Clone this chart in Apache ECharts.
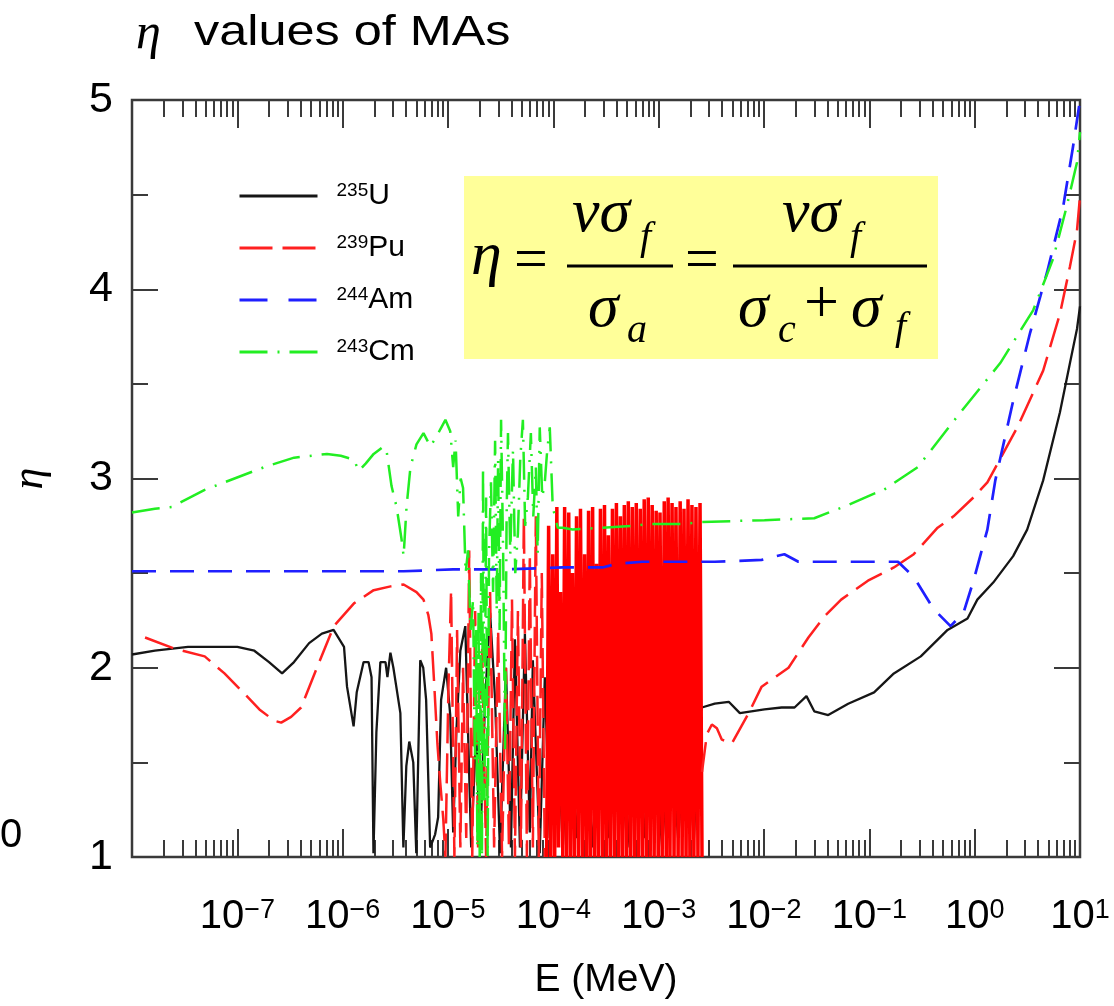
<!DOCTYPE html>
<html>
<head>
<meta charset="utf-8">
<script src="https://cdn.jsdelivr.net/npm/echarts@6/dist/echarts.min.js"></script>
<style>
  html, body { margin: 0; padding: 0; background: #fff; }
  #chart { width: 1114px; height: 1006px; }
</style>
</head>
<body>
<div id="chart"></div>
<script>
// Neutron energy E in MeV, eta = nu*sigma_f / sigma_a.

const u235 = [
  [1.0e-8, 2.07], [1.65e-8, 2.09], [3.4e-8, 2.11], [1.0e-7, 2.11], [1.45e-7, 2.09], [2.0e-7, 2.03],
  [2.66e-7, 1.97], [3.45e-7, 2.03], [4.8e-7, 2.13], [6.35e-7, 2.18], [8.2e-7, 2.20],
  [1.03e-6, 2.11], [1.1e-6, 1.90], [1.27e-6, 1.69], [1.36e-6, 1.87], [1.58e-6, 2.03], [1.76e-6, 2.03],
  [1.88e-6, 1.95], [1.96e-6, 1.02], [2.09e-6, 1.66], [2.28e-6, 2.03], [2.55e-6, 2.03], [2.66e-6, 1.95],
  [2.84e-6, 2.08], [3.03e-6, 2.0], [3.23e-6, 1.90], [3.53e-6, 1.76], [3.77e-6, 1.05], [4.02e-6, 1.48],
  [4.29e-6, 1.61], [4.68e-6, 1.50], [5.0e-6, 1.02], [5.45e-6, 2.04], [5.82e-6, 2.0], [6.2e-6, 1.83],
  [6.77e-6, 1.05], [7.55e-6, 1.12], [8.06e-6, 1.21], [8.6e-6, 1.83], [9.6e-6, 2.0],
  [1.05e-5, 1.75], [1.12e-5, 1.13], [1.2e-5, 1.66], [1.31e-5, 2.09], [1.46e-5, 2.22], [1.55e-5, 1.66],
  [1.66e-5, 1.05], [1.85e-5, 1.66], [2.02e-5, 1.05], [2.25e-5, 1.83], [2.51e-5, 2.29], [2.8e-5, 1.83],
  [3.12e-5, 1.02], [3.55e-5, 2.0], [3.96e-5, 1.05], [4.32e-5, 2.15], [4.82e-5, 1.05], [5.37e-5, 2.18],
  [5.98e-5, 1.13], [6.39e-5, 2.04], [7.43e-5, 1.02], [8.3e-5, 1.95], [9.25e-5, 1.1],
  [1.05e-4, 1.9], [1.23e-4, 1.05], [1.43e-4, 1.85], [1.66e-4, 1.1], [1.98e-4, 1.8], [2.36e-4, 1.05],
  [2.8e-4, 1.75], [3.4e-4, 1.1], [4.15e-4, 1.7], [5.05e-4, 1.05], [6.13e-4, 1.7], [7.46e-4, 1.1],
  [9.06e-4, 1.6], [1.08e-3, 1.05], [1.28e-3, 1.7], [1.53e-3, 1.1], [1.82e-3, 1.65], [2.16e-3, 1.1],
  [2.47e-3, 1.75], [2.57e-3, 1.79],
  [3.41e-3, 1.81], [4.63e-3, 1.82], [5.9e-3, 1.76], [1.01e-2, 1.78], [1.47e-2, 1.79], [1.95e-2, 1.79],
  [2.53e-2, 1.85], [3.0e-2, 1.77], [4.07e-2, 1.75], [6.3e-2, 1.81], [1.11e-1, 1.87], [1.71e-1, 1.97],
  [3.08e-1, 2.06], [5.53e-1, 2.2], [8.55e-1, 2.26], [1.06, 2.36], [1.5, 2.45], [2.32, 2.59],
  [3.15, 2.73], [4.47, 2.99], [6.45, 3.35], [8.03, 3.61], [9.36, 3.79], [10, 3.91]
];

// 239Pu: thermal range and resolved resonances up to ~8e-5 MeV
const pu239Low = [
  [1.33e-8, 2.16], [2.55e-8, 2.10], [4.9e-8, 2.06], [7.55e-8, 1.97], [1.09e-7, 1.88], [1.62e-7, 1.78],
  [2.24e-7, 1.72], [2.61e-7, 1.71], [3.24e-7, 1.74], [4.03e-7, 1.79], [5.7e-7, 2.00], [8.25e-7, 2.22],
  [1.28e-6, 2.34], [1.97e-6, 2.41], [2.85e-6, 2.43], [3.79e-6, 2.44], [5.02e-6, 2.40], [5.85e-6, 2.36],
  [6.5e-6, 2.28], [6.95e-6, 2.18], [7.42e-6, 1.9], [7.93e-6, 1.6], [8.45e-6, 1.39], [9.02e-6, 1.2],
  [9.45e-6, 1.0], [1.01e-5, 1.9], [1.07e-5, 2.41], [1.15e-5, 1.0], [1.22e-5, 2.2], [1.31e-5, 1.05],
  [1.39e-5, 2.0], [1.49e-5, 1.1], [1.59e-5, 2.62], [1.7e-5, 1.0], [1.81e-5, 2.3], [1.93e-5, 1.05],
  [2.11e-5, 2.1], [2.3e-5, 1.0], [2.51e-5, 2.4], [2.74e-5, 1.05], [2.99e-5, 2.2], [3.26e-5, 1.0],
  [3.55e-5, 2.0], [3.79e-5, 1.05], [4.05e-5, 2.36], [4.32e-5, 1.0], [4.61e-5, 2.3], [4.92e-5, 1.05],
  [5.25e-5, 2.8], [5.61e-5, 1.0], [5.98e-5, 2.6], [6.39e-5, 1.05], [6.82e-5, 2.8], [7.28e-5, 1.0],
  [7.77e-5, 2.5], [8.3e-5, 1.0]
];

// 239Pu: densely packed resonances, ~9e-5 to 2.6e-3 MeV
const pu239Dense = [
  [8.64e-5, 1.0], [9.02e-5, 2.75], [9.45e-5, 1.0], [9.87e-5, 2.6], [1.03e-4, 1.0], [1.08e-4, 2.85],
  [1.12e-4, 1.05], [1.17e-4, 2.4], [1.23e-4, 1.0], [1.28e-4, 2.85], [1.34e-4, 1.0], [1.4e-4, 2.82],
  [1.46e-4, 1.0], [1.52e-4, 2.5], [1.59e-4, 1.0], [1.66e-4, 2.8], [1.74e-4, 1.0], [1.81e-4, 2.84],
  [1.9e-4, 1.0], [1.98e-4, 2.6], [2.07e-4, 1.0], [2.16e-4, 2.83], [2.25e-4, 1.0], [2.36e-4, 2.85],
  [2.46e-4, 1.0], [2.57e-4, 2.55], [2.68e-4, 1.0], [2.8e-4, 2.84], [2.93e-4, 1.0], [3.06e-4, 2.86],
  [3.19e-4, 1.0], [3.33e-4, 2.7], [3.48e-4, 1.0], [3.64e-4, 2.84], [3.8e-4, 1.0], [3.97e-4, 2.87],
  [4.15e-4, 1.0], [4.33e-4, 2.8], [4.52e-4, 1.0], [4.72e-4, 2.86], [4.93e-4, 1.0], [5.15e-4, 2.88],
  [5.38e-4, 1.0], [5.62e-4, 2.85], [5.87e-4, 1.0], [6.13e-4, 2.87], [6.4e-4, 1.0], [6.69e-4, 2.84],
  [6.98e-4, 1.0], [7.29e-4, 2.89], [7.62e-4, 1.0], [7.96e-4, 2.9], [8.31e-4, 1.0], [8.68e-4, 2.86],
  [9.06e-4, 1.0], [9.47e-4, 2.83], [9.89e-4, 1.0], [1.03e-3, 2.82], [1.08e-3, 1.0], [1.13e-3, 2.88],
  [1.18e-3, 1.0], [1.23e-3, 2.9], [1.28e-3, 1.0], [1.34e-3, 2.87], [1.4e-3, 1.0], [1.46e-3, 2.85],
  [1.53e-3, 1.0], [1.6e-3, 2.88], [1.67e-3, 1.0], [1.74e-3, 2.84], [1.82e-3, 1.0], [1.9e-3, 2.89],
  [1.98e-3, 1.0], [2.07e-3, 2.86], [2.16e-3, 1.0], [2.26e-3, 2.85], [2.36e-3, 1.0], [2.47e-3, 2.87],
  [2.58e-3, 1.0]
];

// 239Pu: unresolved and fast range
const pu239Fast = [
  [2.58e-3, 1.45], [2.87e-3, 1.65], [3.2e-3, 1.70], [3.57e-3, 1.68], [3.98e-3, 1.62], [4.95e-3, 1.60],
  [7.15e-3, 1.76], [9.5e-3, 1.90], [1.71e-2, 2.00], [2.64e-2, 2.16], [3.73e-2, 2.27], [5.4e-2, 2.36],
  [9.7e-2, 2.46], [1.71e-1, 2.53], [2.64e-1, 2.6], [4.45e-1, 2.74], [6.3e-1, 2.8], [9.75e-1, 2.9],
  [1.32, 2.98], [2.54, 3.27], [4.47, 3.57], [6.45, 3.87], [8.03, 4.12], [9.36, 4.31], [10, 4.49]
];

const am244 = [
  [1e-8, 2.51], [1e-6, 2.51], [3.79e-6, 2.51], [1.12e-5, 2.52], [3.33e-5, 2.52], [1.23e-4, 2.53],
  [2.93e-4, 2.53], [4.06e-4, 2.55], [6.98e-4, 2.56], [3.41e-3, 2.56], [9.5e-3, 2.57], [1.31e-2, 2.59],
  [1.56e-2, 2.60], [1.82e-2, 2.58], [2.12e-2, 2.56], [6.73e-2, 2.56], [1.87e-1, 2.56], [2.64e-1, 2.48],
  [4.08e-1, 2.31], [5.9e-1, 2.22], [7.83e-1, 2.29], [9.75e-1, 2.46], [1.32, 2.73], [1.57, 2.99],
  [2.32, 3.41], [3.36, 3.77], [4.87, 4.09], [6.89, 4.43], [8.57, 4.75], [10, 5.0]
];

const cm243 = [
  [1e-8, 2.82], [1.65e-8, 2.84], [2.39e-8, 2.85], [4.9e-8, 2.94], [9.4e-8, 3.0], [1.8e-7, 3.06],
  [3.46e-7, 3.11], [7.1e-7, 3.13], [9.6e-7, 3.12], [1.28e-6, 3.1], [1.42e-6, 3.04], [1.66e-6, 3.08],
  [1.97e-6, 3.13], [2.45e-6, 3.17], [2.62e-6, 3.14], [2.91e-6, 2.96], [3.25e-6, 2.85], [3.62e-6, 2.68],
  [3.79e-6, 2.59], [4.04e-6, 2.85], [4.4e-6, 3.06], [5.02e-6, 3.18], [5.85e-6, 3.24], [6.8e-6, 3.17],
  [7.75e-6, 3.22], [8.45e-6, 3.26], [9.45e-6, 3.31], [1.05e-5, 3.25], [1.12e-5, 3.06], [1.18e-5, 3.2],
  [1.25e-5, 2.8], [1.32e-5, 3.0], [1.39e-5, 2.95], [1.47e-5, 2.5], [1.55e-5, 2.62], [1.64e-5, 2.2],
  [1.73e-5, 2.36], [1.8e-5, 1.5], [1.85e-5, 2.2], [1.9e-5, 1.05], [1.95e-5, 2.3], [2.0e-5, 1.0],
  [2.06e-5, 2.5], [2.1e-5, 1.0], [2.15e-5, 3.06], [2.22e-5, 1.3], [2.3e-5, 2.9], [2.38e-5, 1.0],
  [2.45e-5, 2.6], [2.56e-5, 2.98], [2.68e-5, 2.4], [2.8e-5, 3.2], [2.9e-5, 2.3], [2.99e-5, 3.1],
  [3.09e-5, 2.2], [3.19e-5, 3.31], [3.34e-5, 2.6], [3.48e-5, 1.56], [3.6e-5, 2.8], [3.71e-5, 3.24],
  [3.9e-5, 2.6], [4.14e-5, 3.15], [4.35e-5, 2.5], [4.61e-5, 2.71], [4.85e-5, 3.1], [5.14e-5, 3.31],
  [5.4e-5, 2.75], [5.73e-5, 2.9], [6.12e-5, 3.24], [6.45e-5, 2.8], [6.82e-5, 3.06], [7.1e-5, 2.6],
  [7.43e-5, 3.27], [7.85e-5, 2.9], [8.3e-5, 2.98], [8.75e-5, 3.15], [9.25e-5, 3.27], [9.87e-5, 2.85],
  [1.1e-4, 2.74], [1.23e-4, 2.74], [1.52e-4, 2.73], [2.93e-4, 2.74], [5.62e-4, 2.75], [8.68e-4, 2.76],
  [1.67e-3, 2.76], [2.58e-3, 2.77], [1.01e-2, 2.78], [3.0e-2, 2.79], [6.3e-2, 2.86], [1.11e-1, 2.92],
  [1.29e-1, 2.93], [2.88e-1, 3.06], [7.35e-1, 3.35], [1.75, 3.61], [3.6, 3.89], [5.55, 4.16],
  [7.5, 4.44], [9.36, 4.67], [10, 4.83]
];

const seriesNames = ['235U', '239Pu', '244Am', '243Cm'];
const decadeExponents = [-8, -7, -6, -5, -4, -3, -2, -1, 0, 1];
const labelExponents = [-7, -6, -5, -4, -3, -2, -1, 0, 1];
const minorMultipliers = [2, 3, 4, 5, 6, 7, 8, 9];
const etaTicks = [1, 2, 3, 4, 5];

const SANS = '"Liberation Sans", Arial, Helvetica, sans-serif';
const SERIF = '"Liberation Serif", "Times New Roman", serif';
const FRAME = '#3a3a3a';

const COLORS = { u: '#161616', pu: '#ff2020', puDense: '#ff0000', am: '#1f1fff', cm: '#22ee22' };
const DASH = { pu: [30, 10], am: [24, 14], cm: [28, 10, 2, 10] };

const majorE = decadeExponents.map(n => Math.pow(10, n));
const labelE = labelExponents.map(n => Math.pow(10, n));
const minorE = [];
decadeExponents.slice(0, -1).forEach(n => minorMultipliers.forEach(k => minorE.push(k * Math.pow(10, n))));

function logAxis(position, ticks, tickLen, withLabels) {
  return {
    type: 'log', logBase: 10, min: 1e-8, max: 10, position: position,
    axisLine: { show: false },
    splitLine: { show: false },
    axisTick: { show: true, inside: true, length: tickLen, customValues: ticks,
                lineStyle: { color: FRAME, width: 2 } },
    axisLabel: withLabels ? {
      show: true, customValues: labelE, margin: 40,
      formatter: v => {
        const n = Math.round(Math.log10(v));
        return '{b|10}{s|' + (n < 0 ? '\u2212' + (-n) : n) + '}';
      },
      rich: {
        b: { fontSize: 40, fontFamily: SANS, color: '#000', verticalAlign: 'bottom' },
        s: { fontSize: 27, fontFamily: SANS, color: '#000', verticalAlign: 'top' }
      }
    } : { show: false }
  };
}

const xBottom = logAxis('bottom', majorE, 28, true);
xBottom.name = 'E (MeV)';
xBottom.nameLocation = 'middle';
xBottom.nameGap = 104;
xBottom.nameTextStyle = { fontSize: 39, fontFamily: SANS, color: '#000' };

function etaAxis(position, withLabels) {
  return {
    type: 'value', min: 1, max: 5, interval: 1, position: position,
    axisLine: { show: false },
    splitLine: { show: false },
    axisTick: { show: true, inside: true, length: 26, lineStyle: { color: FRAME, width: 2 } },
    minorTick: { show: true, splitNumber: 2, length: 16, lineStyle: { color: FRAME, width: 2 } },
    axisLabel: withLabels ? {
      show: true, margin: 19, fontSize: 43, fontFamily: SANS, color: '#000',
      customValues: etaTicks
    } : { show: false }
  };
}

const yLeft = etaAxis('left', true);
yLeft.name = '\u03b7';
yLeft.nameLocation = 'middle';
yLeft.nameRotate = 90;
yLeft.nameGap = 80;
yLeft.nameTextStyle = { fontSize: 44, fontFamily: SERIF, fontStyle: 'italic', color: '#000' };

function line(name, data, color, width, type) {
  return {
    name: name, type: 'line', data: data, xAxisIndex: 0, yAxisIndex: 0,
    symbol: 'none', showSymbol: false, clip: true, silent: true,
    lineStyle: { color: color, width: width, type: type },
    itemStyle: { color: color },
    emphasis: { disabled: true }
  };
}

// Formula box: eta = nu*sigma_f / sigma_a = nu*sigma_f / (sigma_c + sigma_f)
function t(text, x, y, size, italic) {
  return {
    type: 'text', x: x, y: y, silent: true,
    style: { text: text, fontSize: size, fontFamily: SERIF, fontStyle: italic ? 'italic' : 'normal',
             fill: '#000', align: 'left', verticalAlign: 'middle' }
  };
}
function bar(x1, x2, y) {
  return { type: 'line', silent: true, shape: { x1: x1, y1: y, x2: x2, y2: y },
           style: { stroke: '#000', lineWidth: 3 } };
}

const formula = {
  type: 'group', z: 100,
  children: [
    { type: 'rect', shape: { x: 464, y: 176, width: 474, height: 183 }, style: { fill: '#ffff99' }, silent: true },
    t('\u03b7', 471, 258, 62, true),
    t('=', 514, 262, 60, false),
    t('\u03bd\u03c3', 572, 215, 62, true),
    t('f', 640, 238, 40, true),
    bar(567, 673, 266),
    t('\u03c3', 588, 310, 62, true),
    t('a', 627, 331, 40, true),
    t('=', 685, 262, 60, false),
    t('\u03bd\u03c3', 782, 215, 62, true),
    t('f', 850, 238, 40, true),
    bar(733, 927, 266),
    t('\u03c3', 738, 310, 62, true),
    t('c', 778, 331, 40, true),
    t('+', 804, 306, 62, false),
    t('\u03c3', 851, 310, 62, true),
    t('f', 895, 328, 40, true)
  ]
};

function legendItem(name, color, type) {
  return { name: name, itemStyle: { opacity: 0 },
           lineStyle: { color: color, width: 3, type: type } };
}

const chart = echarts.init(document.getElementById('chart'), null, { renderer: 'canvas' });
chart.setOption({
  animation: false,
  backgroundColor: '#fff',
  grid: { left: 127, right: 34, top: 100, bottom: 149, show: true,
          borderColor: FRAME, borderWidth: 2.5, backgroundColor: 'transparent' },
  xAxis: [
    xBottom,
    logAxis('bottom', minorE, 17, false),
    logAxis('top', majorE, 28, false),
    logAxis('top', minorE, 17, false)
  ],
  yAxis: [yLeft, etaAxis('right', false)],
  legend: {
    data: [
      legendItem(seriesNames[0], COLORS.u, 'solid'),
      legendItem(seriesNames[1], COLORS.pu, [33, 10]),
      legendItem(seriesNames[2], COLORS.am, [28, 21]),
      legendItem(seriesNames[3], COLORS.cm, [28, 10, 2, 10])
    ],
    orient: 'vertical', left: 233, top: 176,
    itemWidth: 78, itemHeight: 20, itemGap: 22,
    selectedMode: false,
    lineStyle: { width: 3 },
    formatter: name => {
      const m = name.match(/^(\d+)(\D+)$/);
      return '{s|' + m[1] + '}{n|' + m[2] + '}';
    },
    textStyle: {
      padding: [0, 0, 0, 14],
      rich: {
        s: { fontSize: 19, fontFamily: SANS, color: '#000', verticalAlign: 'top' },
        n: { fontSize: 30, fontFamily: SANS, color: '#000', verticalAlign: 'bottom' }
      }
    }
  },
  graphic: [
    {
      type: 'text', left: 136, top: 10, silent: true,
      style: { text: '\u03b7', fontSize: 50, fontFamily: SERIF, fontStyle: 'italic', fill: '#000' }
    },
    {
      type: 'text', x: 194, y: 12, scaleX: 1.2, silent: true,
      style: { text: 'values of MAs', fontSize: 42, fontFamily: SANS, fill: '#000' }
    },
    {
      type: 'text', left: 0, top: 816, silent: true,
      style: { text: '0', fontSize: 40, fontFamily: SANS, fill: '#000' }
    },
    formula
  ],
  series: [
    line(seriesNames[0], u235, COLORS.u, 2.3, 'solid'),
    line(seriesNames[1], pu239Low, COLORS.pu, 2.5, DASH.pu),
    line(seriesNames[1], pu239Dense, COLORS.puDense, 3.5, 'solid'),
    line(seriesNames[1], pu239Fast, COLORS.pu, 2.5, DASH.pu),
    line(seriesNames[2], am244, COLORS.am, 2.7, DASH.am),
    line(seriesNames[3], cm243, COLORS.cm, 2.5, DASH.cm)
  ]
});
</script>
</body>
</html>
